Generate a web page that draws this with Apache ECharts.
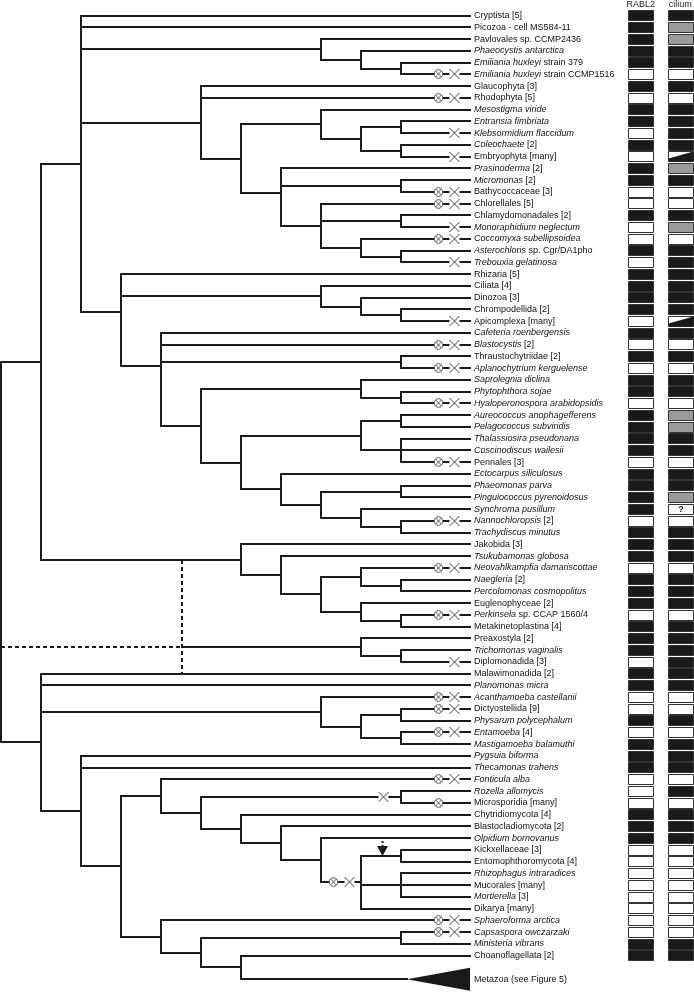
<!DOCTYPE html>
<html><head><meta charset="utf-8">
<script src="https://cdn.jsdelivr.net/npm/echarts@6/dist/echarts.min.js"></script>
<style>html,body{margin:0;padding:0;background:#fff}#c{width:694px;height:992px}</style>
</head><body><div id="c"></div>
<script>
// ---------- DATA ----------
// taxa (row order); text between * * is italic
const taxa = [
 'Cryptista [5]','Picozoa - cell MS584-11','Pavlovales sp. CCMP2436','*Phaeocystis antarctica*',
 '*Emiliania huxleyi* strain 379','*Emiliania huxleyi* strain CCMP1516','Glaucophyta [3]','Rhodophyta [5]',
 '*Mesostigma viride*','*Entransia fimbriata*','*Klebsormidium flaccidum*','*Coleochaete* [2]',
 'Embryophyta [many]','*Prasinoderma* [2]','*Micromonas* [2]','Bathycoccaceae [3]','Chlorellales [5]',
 'Chlamydomonadales [2]','*Monoraphidium neglectum*','*Coccomyxa subellipsoidea*','*Asterochloris* sp. Cgr/DA1pho',
 '*Trebouxia gelatinosa*','Rhizaria [5]','Ciliata [4]','Dinozoa [3]','Chrompodellida [2]','Apicomplexa [many]',
 '*Cafeteria roenbergensis*','*Blastocystis* [2]','Thraustochytriidae [2]','*Aplanochytrium kerguelense*',
 '*Saprolegnia diclina*','*Phytophthora sojae*','*Hyaloperonospora arabidopsidis*','*Aureococcus anophagefferens*',
 '*Pelagococcus subviridis*','*Thalassiosira pseudonana*','*Coscinodiscus wailesii*','Pennales [3]',
 '*Ectocarpus siliculosus*','*Phaeomonas parva*','*Pinguiococcus pyrenoidosus*','*Synchroma pusillum*',
 '*Nannochloropsis* [2]','*Trachydiscus minutus*','Jakobida [3]','*Tsukubamonas globosa*',
 '*Neovahlkampfia damariscottae*','*Naegleria* [2]','*Percolomonas cosmopolitus*','Euglenophyceae [2]',
 '*Perkinsela* sp. CCAP 1560/4','Metakinetoplastina [4]','Preaxostyla [2]','*Trichomonas vaginalis*',
 'Diplomonadida [3]','Malawimonadida [2]','*Planomonas micra*','*Acanthamoeba castellanii*','Dictyosteliida [9]',
 '*Physarum polycephalum*','*Entamoeba* [4]','*Mastigamoeba balamuthi*','*Pygsuia biforma*','*Thecamonas trahens*',
 '*Fonticula alba*','*Rozella allomycis*','Microsporidia [many]','Chytridiomycota [4]','Blastocladiomycota [2]',
 '*Olpidium bornovanus*','Kickxellaceae [3]','Entomophthoromycota [4]','*Rhizophagus intraradices*',
 'Mucorales [many]','*Mortierella* [3]','Dikarya [many]','*Sphaeroforma arctica*','*Capsaspora owczarzaki*',
 '*Ministeria vibrans*','Choanoflagellata [2]'
];
const collapsedName = 'Metazoa (see Figure 5)';
const collapsedRow = 82;
// B = present, W = absent, G = grey, H = partial, Q = unknown
const rabl2 = ['B','B','B','B','B','W','B','W','B','B','W','B','W','B','B','W','W','B','W','W','B','W',
 'B','B','B','B','W','B','W','B','W','B','B','W','B','B','B','B','W','B','B','B','B','W','B','B','B','W',
 'B','B','B','W','B','B','B','W','B','B','W','W','B','W','B','B','B','W','W','W','B','B','B','W','W','W',
 'W','W','W','W','W','B','B'];
const cilium = ['B','G','G','B','B','W','B','W','B','B','B','B','H','G','B','W','W','B','G','W','B','B',
 'B','B','B','B','H','B','W','B','W','B','B','W','G','G','B','B','W','B','B','G','Q','W','B','B','B','W',
 'B','B','B','W','B','B','B','B','B','B','W','W','B','W','B','B','B','W','B','W','B','B','B','W','W','W',
 'W','W','W','W','W','B','B'];
const columns = ['RABL2','cilium'];
// clades: [id, depth level, children (row index or clade id), placement]
const clades = [
 ['root',0,['N1','N3']],
 ['N1',1,['N2','Discoba']],
 ['N2',2,[0,1,'Hapto','Archae','SAR']],
 ['Hapto',8,[2,'Hapto2']],['Hapto2',9,[3,'Ehux']],['Ehux',10,[4,5]],
 ['Archae',5,[6,7,'Viridi']],['Viridi',6,['Strepto','Chloro']],
 ['Strepto',8,[8,'Strep2']],['Strep2',9,['Strep3','Strep4']],['Strep3',10,[9,10]],['Strep4',10,[11,12]],
 ['Chloro',7,[13,'Mamiello','Core'],'mean'],['Mamiello',10,[14,15]],
 ['Core',8,[16,'Chlam','Treb']],['Chlam',10,[17,18]],['Treb',9,[19,'Treb2']],['Treb2',10,[20,21]],
 ['SAR',3,[22,'Alveo','Strame'],'mean'],
 ['Alveo',8,[23,'Alv2']],['Alv2',9,[24,'Alv3']],['Alv3',10,[25,26]],
 ['Strame',4,[27,28,'Labyr','Ochro'],'mean'],['Labyr',10,[29,30]],
 ['Ochro',5,['Oomy','Ochro2']],['Oomy',9,[31,'Oomy2']],['Oomy2',10,[32,33]],
 ['Ochro2',6,['Diat','Ochro3']],['Diat',9,['Pelago','Diat2']],['Pelago',10,[34,35]],['Diat2',10,[36,37,38]],
 ['Ochro3',7,[39,'Ochro4']],['Ochro4',8,['Pingu','Eusti']],['Pingu',10,[40,41]],
 ['Eusti',9,[42,'Nanno']],['Nanno',10,[43,44]],
 ['Discoba',6,[45,'Disc2']],['Disc2',7,[46,'Disc3']],['Disc3',8,['Hetero','Eugleno']],
 ['Hetero',9,[47,'Naeg']],['Naeg',10,[48,49]],['Eugleno',9,[50,'Kineto']],['Kineto',10,[51,52]],
 ['Metamonada',9,[53,'Meta2']],['Meta2',10,[54,55]],
 ['N3',1,[56,57,'Amoebo','Obazoa']],
 ['Amoebo',8,[58,'Amo2']],['Amo2',9,['Amo3','Amo4']],['Amo3',10,[59,60]],['Amo4',10,[61,62]],
 ['Obazoa',2,[63,64,'Opis']],['Opis',3,['Holomyc','Holozoa']],
 ['Holomyc',4,[65,'Fungi1']],['Fungi1',5,['Rozel','Fungi2']],['Rozel',10,[66,67]],
 ['Fungi2',6,[68,'Fungi3']],['Fungi3',7,[69,'Fungi4']],['Fungi4',8,[70,'Fungi5']],
 ['Fungi5',9,['Zoop','Mucoro',76]],['Zoop',10,[71,72]],['Mucoro',10,[73,74,75]],
 ['Holozoa',4,[77,'Holo2']],['Holo2',5,['Capsa','Choano']],['Capsa',10,[78,79]],
 ['Choano',6,[80,'Metazoa']]
];
// uncertain placement (dashed)
const uncertain = {clade:'Metamonada', from:'root', between:['Discoba',56]};
// loss events on terminal branches
const lossBoth = [5,7,15,16,19,28,30,33,38,43,47,51,58,59,61,65,77,78];
const lossCilium = [10,12,18,21,26,55];
const lossRabl2 = [67];
// loss events on internal branches
const branchLossCilium = ['Rozel'];
const branchLossBoth = ['Fungi5'];
const arrowOn = ['Zoop'];

// ---------- LAYOUT ----------
const X0 = 1.3, DX = 40, LEAF_END = 470, APEX = 407, LABEL_X = 474, ALT_X = 181.7;
const O_X = 437.5, X_X = 454.3;
const COL_X = [628.3, 667.7], COL_W = 25;
const xp = lv => X0 + DX * lv;
const byId = {};
clades.forEach(c => byId[c[0]] = {id:c[0], lv:c[1], ch:c[2], mode:c[3] || 'mid'});
function rowOf(ch){
  if (typeof ch === 'number') return ch;
  if (ch === 'Metazoa') return collapsedRow;
  const n = byId[ch];
  if (n.y === undefined){
    const ys = n.ch.map(rowOf);
    n.y = n.mode === 'mean' ? ys.reduce((a,b)=>a+b,0)/ys.length : (ys[0] + ys[ys.length-1]) / 2;
  }
  return n.y;
}
const segs = [];
clades.forEach(c => {
  const n = byId[c[0]]; const ys = n.ch.map(rowOf); const x = xp(n.lv);
  segs.push([x, ys[0], x, ys[ys.length-1], 0]);
  n.ch.forEach((ch,k) => {
    const xe = typeof ch === 'number' ? LEAF_END : ch === 'Metazoa' ? APEX : xp(byId[ch].lv);
    segs.push([x, ys[k], xe, ys[k], 0]);
  });
});
const my = rowOf(uncertain.clade);
segs.push([xp(byId[uncertain.from].lv), my, ALT_X, my, 1]);
segs.push([ALT_X, my, xp(byId[uncertain.clade].lv), my, 0]);
segs.push([ALT_X, rowOf(uncertain.between[0]), ALT_X, rowOf(uncertain.between[1]), 1]);

// marks: [x, row, type] type 0 = circle-x, 1 = x, 2 = arrow
const marks = [];
lossBoth.forEach(r => { marks.push([O_X, r, 0]); marks.push([X_X, r, 1]); });
lossCilium.forEach(r => marks.push([X_X, r, 1]));
lossRabl2.forEach(r => marks.push([O_X, r, 0]));
branchLossCilium.forEach(id => marks.push([(xp(byId[id].lv) + 364)/2 , rowOf(id), 1]));
branchLossBoth.forEach(id => { marks.push([332.7, rowOf(id), 0]); marks.push([349.3, rowOf(id), 1]); });
arrowOn.forEach(id => marks.push([381.7, rowOf(id), 2]));

const labels = taxa.map((t,i) => [LABEL_X, i]);
labels.push([LABEL_X, collapsedRow]);
const labelText = taxa.concat([collapsedName]);
function toRich(s){
  return s.split('*').map((p,k) => p ? '{' + (k % 2 ? 'i' : 'n') + '|' + p + '}' : '').join('');
}
const cells = [], cellState = [];
[rabl2, cilium].forEach((arr, c) => arr.forEach((v, r) => { cells.push([COL_X[c], r]); cellState.push(v); }));

const FONT = '"Liberation Sans", Arial, sans-serif';
const FS = 9;
const INK = '#1a1a1a';
const R = v => Math.round(v);

const chart = echarts.init(document.getElementById('c'));
chart.setOption({
  animation: false,
  grid: {left:0, right:0, top:0, bottom:0},
  xAxis: {type:'value', min:0, max:694, show:false},
  yAxis: {type:'value', min:-1.336, max:83.09, inverse:true, show:false},
  graphic: columns.map((t,c) => ({type:'text', x: COL_X[c] + COL_W/2, y: 5,
    style:{text:t, fontSize:FS, fontFamily:FONT, fill:'#222', align:'center', verticalAlign:'middle'}})),
  series: [
    { type:'custom', clip:false, data: segs,
      renderItem: (p, api) => {
        const a = api.coord([api.value(0), api.value(1)]), b = api.coord([api.value(2), api.value(3)]);
        const d = api.value(4) === 1;
        return {type:'line', shape:{x1:R(a[0]), y1:R(a[1]), x2:R(b[0]), y2:R(b[1])},
          style:{stroke:INK, lineWidth:2, lineCap: d ? 'butt' : 'square', lineDash: d ? [4,3] : null}};
      }},
    { type:'custom', clip:false, data:[[APEX, collapsedRow]],
      renderItem: (p, api) => {
        const a = api.coord([api.value(0), api.value(1)]); const e = api.coord([LEAF_END, api.value(1)]);
        return {type:'polygon', shape:{points:[[a[0], a[1]], [e[0], a[1]-11.5], [e[0], a[1]+11.5]]}, style:{fill:INK}};
      }},
    { type:'custom', clip:false, data: marks,
      renderItem: (p, api) => {
        const c = api.coord([api.value(0), api.value(1)]); const t = api.value(2);
        const x = R(c[0]) + 0.5, y = R(c[1]);
        if (t === 0) {
          return {type:'group', children:[
            {type:'circle', shape:{cx:x, cy:y, r:4.3}, style:{fill:'#fff', stroke:'#555', lineWidth:1}},
            {type:'line', shape:{x1:x-3, y1:y-3, x2:x+3, y2:y+3}, style:{stroke:'#555', lineWidth:1}},
            {type:'line', shape:{x1:x-3, y1:y+3, x2:x+3, y2:y-3}, style:{stroke:'#555', lineWidth:1}}]};
        }
        if (t === 1) {
          return {type:'group', children:[
            {type:'rect', shape:{x:x-5, y:y-2, width:10, height:4}, style:{fill:'#fff'}},
            {type:'line', shape:{x1:x-5, y1:y-5, x2:x+5, y2:y+5}, style:{stroke:'#444', lineWidth:1}},
            {type:'line', shape:{x1:x-5, y1:y+5, x2:x+5, y2:y-5}, style:{stroke:'#444', lineWidth:1}}]};
        }
        return {type:'group', children:[
          {type:'line', shape:{x1:x, y1:y-19, x2:x, y2:y-10}, style:{stroke:INK, lineWidth:2, lineDash:[2,2]}},
          {type:'polygon', shape:{points:[[x-5.5, y-10], [x+5.5, y-10], [x, y]]}, style:{fill:INK}}]};
      }},
    { type:'custom', clip:false, data: labels,
      renderItem: (p, api) => {
        const c = api.coord([api.value(0), api.value(1)]);
        return {type:'text', x:c[0], y:c[1], style:{text: toRich(labelText[p.dataIndex]),
          fontSize:FS, fontFamily:FONT, fill:'#111', verticalAlign:'middle', align:'left',
          rich:{i:{fontStyle:'italic', fontSize:FS, fontFamily:FONT, fill:'#111'}, n:{fontSize:FS, fontFamily:FONT, fill:'#111'}}}};
      }},
    { type:'custom', clip:false, data: cells,
      renderItem: (p, api) => {
        const c = api.coord([api.value(0), api.value(1)]); const s = cellState[p.dataIndex];
        const x = R(c[0]) + 0.5, y = R(c[1] - 5.4) + 0.5, w = COL_W, h = 10;
        const fill = s === 'B' ? INK : s === 'G' ? '#9a9a9a' : '#fff';
        const ch = [{type:'rect', shape:{x, y, width:w, height:h}, style:{fill, stroke:'#333', lineWidth:1}}];
        if (s === 'H') ch.push({type:'polygon', shape:{points:[[x, y+h], [x, y+h-3], [x+w, y], [x+w, y+h]]}, style:{fill:INK}});
        if (s === 'Q') ch.push({type:'text', x:x+w/2, y:y+h/2+0.5, style:{text:'?', fontSize:9, fontWeight:'bold', fontFamily:FONT, fill:'#111', align:'center', verticalAlign:'middle'}});
        return {type:'group', children: ch};
      }}
  ]
});
</script></body></html>
